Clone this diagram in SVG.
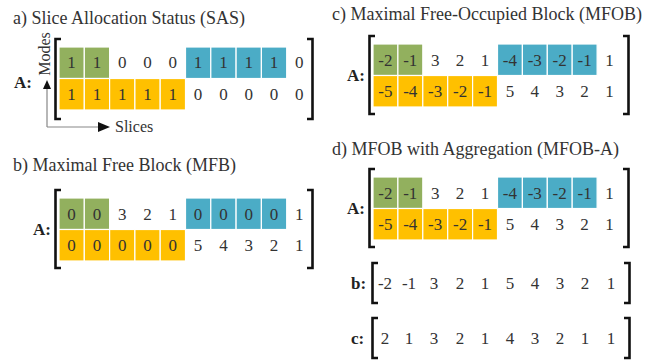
<svg xmlns="http://www.w3.org/2000/svg" width="670" height="363" viewBox="0 0 670 363">
  <!-- a) Slice Allocation Status: titles, labels and axis words -->
  <text x="13" y="24" font-family="Liberation Serif" font-size="18" fill="#333">a) Slice Allocation Status (SAS)</text>
  <text x="14" y="88" font-family="Liberation Serif" font-size="17" font-weight="bold" fill="#222">A:</text>
  <text x="0" y="0" transform="translate(50,54) rotate(-90)" text-anchor="middle" font-family="Liberation Serif" font-size="16" fill="#333">Modes</text>
  <text x="115" y="132" font-family="Liberation Serif" font-size="16" fill="#333">Slices</text>

  <!-- SAS cells -->
  <rect x="59" y="47" width="25.3" height="31.5" fill="#92B05E" stroke="#fff" stroke-width="1.2"/>
  <rect x="84.3" y="47" width="25.3" height="31.5" fill="#92B05E" stroke="#fff" stroke-width="1.2"/>
  <rect x="185.5" y="47" width="25.3" height="31.5" fill="#4BACC6" stroke="#fff" stroke-width="1.2"/>
  <rect x="210.8" y="47" width="25.3" height="31.5" fill="#4BACC6" stroke="#fff" stroke-width="1.2"/>
  <rect x="236.1" y="47" width="25.3" height="31.5" fill="#4BACC6" stroke="#fff" stroke-width="1.2"/>
  <rect x="261.4" y="47" width="25.3" height="31.5" fill="#4BACC6" stroke="#fff" stroke-width="1.2"/>
  <rect x="59" y="78.5" width="25.3" height="31.5" fill="#FFC000" stroke="#fff" stroke-width="1.2"/>
  <rect x="84.3" y="78.5" width="25.3" height="31.5" fill="#FFC000" stroke="#fff" stroke-width="1.2"/>
  <rect x="109.6" y="78.5" width="25.3" height="31.5" fill="#FFC000" stroke="#fff" stroke-width="1.2"/>
  <rect x="134.9" y="78.5" width="25.3" height="31.5" fill="#FFC000" stroke="#fff" stroke-width="1.2"/>
  <rect x="160.2" y="78.5" width="25.3" height="31.5" fill="#FFC000" stroke="#fff" stroke-width="1.2"/>

  <!-- SAS values -->
  <text x="71.6" y="68" text-anchor="middle" font-family="Liberation Serif" font-size="17" fill="#333">1</text>
  <text x="96.9" y="68" text-anchor="middle" font-family="Liberation Serif" font-size="17" fill="#333">1</text>
  <text x="122.2" y="68" text-anchor="middle" font-family="Liberation Serif" font-size="17" fill="#333">0</text>
  <text x="147.5" y="68" text-anchor="middle" font-family="Liberation Serif" font-size="17" fill="#333">0</text>
  <text x="172.8" y="68" text-anchor="middle" font-family="Liberation Serif" font-size="17" fill="#333">0</text>
  <text x="198.1" y="68" text-anchor="middle" font-family="Liberation Serif" font-size="17" fill="#333">1</text>
  <text x="223.4" y="68" text-anchor="middle" font-family="Liberation Serif" font-size="17" fill="#333">1</text>
  <text x="248.7" y="68" text-anchor="middle" font-family="Liberation Serif" font-size="17" fill="#333">1</text>
  <text x="274" y="68" text-anchor="middle" font-family="Liberation Serif" font-size="17" fill="#333">1</text>
  <text x="299.3" y="68" text-anchor="middle" font-family="Liberation Serif" font-size="17" fill="#333">0</text>
  <text x="71.6" y="100" text-anchor="middle" font-family="Liberation Serif" font-size="17" fill="#333">1</text>
  <text x="96.9" y="100" text-anchor="middle" font-family="Liberation Serif" font-size="17" fill="#333">1</text>
  <text x="122.2" y="100" text-anchor="middle" font-family="Liberation Serif" font-size="17" fill="#333">1</text>
  <text x="147.5" y="100" text-anchor="middle" font-family="Liberation Serif" font-size="17" fill="#333">1</text>
  <text x="172.8" y="100" text-anchor="middle" font-family="Liberation Serif" font-size="17" fill="#333">1</text>
  <text x="198.1" y="100" text-anchor="middle" font-family="Liberation Serif" font-size="17" fill="#333">0</text>
  <text x="223.4" y="100" text-anchor="middle" font-family="Liberation Serif" font-size="17" fill="#333">0</text>
  <text x="248.7" y="100" text-anchor="middle" font-family="Liberation Serif" font-size="17" fill="#333">0</text>
  <text x="274" y="100" text-anchor="middle" font-family="Liberation Serif" font-size="17" fill="#333">0</text>
  <text x="299.3" y="100" text-anchor="middle" font-family="Liberation Serif" font-size="17" fill="#333">0</text>
  <path d="M61,39 H55.5 V119 H61 M307,39 H312.5 V119 H307" fill="none" stroke="#111" stroke-width="2.6"/>

  <!-- axis arrows -->
  <path d="M47,127 V88 M47,127 H99" fill="none" stroke="#888" stroke-width="1.2"/>
  <polygon points="47,80 43,89 51,89" fill="#111"/>
  <polygon points="110,127 98,122 98,132" fill="#111"/>

  <!-- b) Maximal Free Block -->
  <text x="13" y="171" font-family="Liberation Serif" font-size="18" fill="#333">b) Maximal Free Block (MFB)</text>
  <text x="33" y="235" font-family="Liberation Serif" font-size="17" font-weight="bold" fill="#222">A:</text>
  <rect x="59" y="198" width="25.3" height="31.5" fill="#92B05E" stroke="#fff" stroke-width="1.2"/>
  <rect x="84.3" y="198" width="25.3" height="31.5" fill="#92B05E" stroke="#fff" stroke-width="1.2"/>
  <rect x="185.5" y="198" width="25.3" height="31.5" fill="#4BACC6" stroke="#fff" stroke-width="1.2"/>
  <rect x="210.8" y="198" width="25.3" height="31.5" fill="#4BACC6" stroke="#fff" stroke-width="1.2"/>
  <rect x="236.1" y="198" width="25.3" height="31.5" fill="#4BACC6" stroke="#fff" stroke-width="1.2"/>
  <rect x="261.4" y="198" width="25.3" height="31.5" fill="#4BACC6" stroke="#fff" stroke-width="1.2"/>
  <rect x="59" y="229.5" width="25.3" height="31.5" fill="#FFC000" stroke="#fff" stroke-width="1.2"/>
  <rect x="84.3" y="229.5" width="25.3" height="31.5" fill="#FFC000" stroke="#fff" stroke-width="1.2"/>
  <rect x="109.6" y="229.5" width="25.3" height="31.5" fill="#FFC000" stroke="#fff" stroke-width="1.2"/>
  <rect x="134.9" y="229.5" width="25.3" height="31.5" fill="#FFC000" stroke="#fff" stroke-width="1.2"/>
  <rect x="160.2" y="229.5" width="25.3" height="31.5" fill="#FFC000" stroke="#fff" stroke-width="1.2"/>
  <text x="71.6" y="220" text-anchor="middle" font-family="Liberation Serif" font-size="17" fill="#333">0</text>
  <text x="96.9" y="220" text-anchor="middle" font-family="Liberation Serif" font-size="17" fill="#333">0</text>
  <text x="122.2" y="220" text-anchor="middle" font-family="Liberation Serif" font-size="17" fill="#333">3</text>
  <text x="147.5" y="220" text-anchor="middle" font-family="Liberation Serif" font-size="17" fill="#333">2</text>
  <text x="172.8" y="220" text-anchor="middle" font-family="Liberation Serif" font-size="17" fill="#333">1</text>
  <text x="198.1" y="220" text-anchor="middle" font-family="Liberation Serif" font-size="17" fill="#333">0</text>
  <text x="223.4" y="220" text-anchor="middle" font-family="Liberation Serif" font-size="17" fill="#333">0</text>
  <text x="248.7" y="220" text-anchor="middle" font-family="Liberation Serif" font-size="17" fill="#333">0</text>
  <text x="274" y="220" text-anchor="middle" font-family="Liberation Serif" font-size="17" fill="#333">0</text>
  <text x="299.3" y="220" text-anchor="middle" font-family="Liberation Serif" font-size="17" fill="#333">1</text>
  <text x="71.6" y="251" text-anchor="middle" font-family="Liberation Serif" font-size="17" fill="#333">0</text>
  <text x="96.9" y="251" text-anchor="middle" font-family="Liberation Serif" font-size="17" fill="#333">0</text>
  <text x="122.2" y="251" text-anchor="middle" font-family="Liberation Serif" font-size="17" fill="#333">0</text>
  <text x="147.5" y="251" text-anchor="middle" font-family="Liberation Serif" font-size="17" fill="#333">0</text>
  <text x="172.8" y="251" text-anchor="middle" font-family="Liberation Serif" font-size="17" fill="#333">0</text>
  <text x="198.1" y="251" text-anchor="middle" font-family="Liberation Serif" font-size="17" fill="#333">5</text>
  <text x="223.4" y="251" text-anchor="middle" font-family="Liberation Serif" font-size="17" fill="#333">4</text>
  <text x="248.7" y="251" text-anchor="middle" font-family="Liberation Serif" font-size="17" fill="#333">3</text>
  <text x="274" y="251" text-anchor="middle" font-family="Liberation Serif" font-size="17" fill="#333">2</text>
  <text x="299.3" y="251" text-anchor="middle" font-family="Liberation Serif" font-size="17" fill="#333">1</text>
  <path d="M61,190 H55.5 V268 H61 M307,190 H312.5 V268 H307" fill="none" stroke="#111" stroke-width="2.6"/>

  <!-- c) Maximal Free-Occupied Block -->
  <text x="332" y="20" font-family="Liberation Serif" font-size="18" fill="#333">c) Maximal Free-Occupied Block (MFOB)</text>
  <text x="347" y="81" font-family="Liberation Serif" font-size="17" font-weight="bold" fill="#222">A:</text>
  <rect x="373" y="44" width="24.9" height="31.5" fill="#92B05E" stroke="#fff" stroke-width="1.2"/>
  <rect x="397.9" y="44" width="24.9" height="31.5" fill="#92B05E" stroke="#fff" stroke-width="1.2"/>
  <rect x="497.5" y="44" width="24.9" height="31.5" fill="#4BACC6" stroke="#fff" stroke-width="1.2"/>
  <rect x="522.4" y="44" width="24.9" height="31.5" fill="#4BACC6" stroke="#fff" stroke-width="1.2"/>
  <rect x="547.3" y="44" width="24.9" height="31.5" fill="#4BACC6" stroke="#fff" stroke-width="1.2"/>
  <rect x="572.2" y="44" width="24.9" height="31.5" fill="#4BACC6" stroke="#fff" stroke-width="1.2"/>
  <rect x="373" y="75.5" width="24.9" height="31.5" fill="#FFC000" stroke="#fff" stroke-width="1.2"/>
  <rect x="397.9" y="75.5" width="24.9" height="31.5" fill="#FFC000" stroke="#fff" stroke-width="1.2"/>
  <rect x="422.8" y="75.5" width="24.9" height="31.5" fill="#FFC000" stroke="#fff" stroke-width="1.2"/>
  <rect x="447.7" y="75.5" width="24.9" height="31.5" fill="#FFC000" stroke="#fff" stroke-width="1.2"/>
  <rect x="472.6" y="75.5" width="24.9" height="31.5" fill="#FFC000" stroke="#fff" stroke-width="1.2"/>
  <text x="385.4" y="66" text-anchor="middle" font-family="Liberation Serif" font-size="17" fill="#333">-2</text>
  <text x="410.3" y="66" text-anchor="middle" font-family="Liberation Serif" font-size="17" fill="#333">-1</text>
  <text x="435.2" y="66" text-anchor="middle" font-family="Liberation Serif" font-size="17" fill="#333">3</text>
  <text x="460.1" y="66" text-anchor="middle" font-family="Liberation Serif" font-size="17" fill="#333">2</text>
  <text x="485" y="66" text-anchor="middle" font-family="Liberation Serif" font-size="17" fill="#333">1</text>
  <text x="509.9" y="66" text-anchor="middle" font-family="Liberation Serif" font-size="17" fill="#333">-4</text>
  <text x="534.8" y="66" text-anchor="middle" font-family="Liberation Serif" font-size="17" fill="#333">-3</text>
  <text x="559.7" y="66" text-anchor="middle" font-family="Liberation Serif" font-size="17" fill="#333">-2</text>
  <text x="584.6" y="66" text-anchor="middle" font-family="Liberation Serif" font-size="17" fill="#333">-1</text>
  <text x="609.5" y="66" text-anchor="middle" font-family="Liberation Serif" font-size="17" fill="#333">1</text>
  <text x="385.4" y="97" text-anchor="middle" font-family="Liberation Serif" font-size="17" fill="#333">-5</text>
  <text x="410.3" y="97" text-anchor="middle" font-family="Liberation Serif" font-size="17" fill="#333">-4</text>
  <text x="435.2" y="97" text-anchor="middle" font-family="Liberation Serif" font-size="17" fill="#333">-3</text>
  <text x="460.1" y="97" text-anchor="middle" font-family="Liberation Serif" font-size="17" fill="#333">-2</text>
  <text x="485" y="97" text-anchor="middle" font-family="Liberation Serif" font-size="17" fill="#333">-1</text>
  <text x="509.9" y="97" text-anchor="middle" font-family="Liberation Serif" font-size="17" fill="#333">5</text>
  <text x="534.8" y="97" text-anchor="middle" font-family="Liberation Serif" font-size="17" fill="#333">4</text>
  <text x="559.7" y="97" text-anchor="middle" font-family="Liberation Serif" font-size="17" fill="#333">3</text>
  <text x="584.6" y="97" text-anchor="middle" font-family="Liberation Serif" font-size="17" fill="#333">2</text>
  <text x="609.5" y="97" text-anchor="middle" font-family="Liberation Serif" font-size="17" fill="#333">1</text>
  <path d="M375,36 H369.5 V114 H375 M623,36 H628.5 V114 H623" fill="none" stroke="#111" stroke-width="2.6"/>

  <!-- d) MFOB with Aggregation -->
  <text x="332" y="155" font-family="Liberation Serif" font-size="18" fill="#333">d) MFOB with Aggregation (MFOB-A)</text>
  <text x="347" y="214" font-family="Liberation Serif" font-size="17" font-weight="bold" fill="#222">A:</text>
  <rect x="373" y="177" width="24.9" height="31.5" fill="#92B05E" stroke="#fff" stroke-width="1.2"/>
  <rect x="397.9" y="177" width="24.9" height="31.5" fill="#92B05E" stroke="#fff" stroke-width="1.2"/>
  <rect x="497.5" y="177" width="24.9" height="31.5" fill="#4BACC6" stroke="#fff" stroke-width="1.2"/>
  <rect x="522.4" y="177" width="24.9" height="31.5" fill="#4BACC6" stroke="#fff" stroke-width="1.2"/>
  <rect x="547.3" y="177" width="24.9" height="31.5" fill="#4BACC6" stroke="#fff" stroke-width="1.2"/>
  <rect x="572.2" y="177" width="24.9" height="31.5" fill="#4BACC6" stroke="#fff" stroke-width="1.2"/>
  <rect x="373" y="208.5" width="24.9" height="31.5" fill="#FFC000" stroke="#fff" stroke-width="1.2"/>
  <rect x="397.9" y="208.5" width="24.9" height="31.5" fill="#FFC000" stroke="#fff" stroke-width="1.2"/>
  <rect x="422.8" y="208.5" width="24.9" height="31.5" fill="#FFC000" stroke="#fff" stroke-width="1.2"/>
  <rect x="447.7" y="208.5" width="24.9" height="31.5" fill="#FFC000" stroke="#fff" stroke-width="1.2"/>
  <rect x="472.6" y="208.5" width="24.9" height="31.5" fill="#FFC000" stroke="#fff" stroke-width="1.2"/>
  <text x="385.4" y="199" text-anchor="middle" font-family="Liberation Serif" font-size="17" fill="#333">-2</text>
  <text x="410.3" y="199" text-anchor="middle" font-family="Liberation Serif" font-size="17" fill="#333">-1</text>
  <text x="435.2" y="199" text-anchor="middle" font-family="Liberation Serif" font-size="17" fill="#333">3</text>
  <text x="460.1" y="199" text-anchor="middle" font-family="Liberation Serif" font-size="17" fill="#333">2</text>
  <text x="485" y="199" text-anchor="middle" font-family="Liberation Serif" font-size="17" fill="#333">1</text>
  <text x="509.9" y="199" text-anchor="middle" font-family="Liberation Serif" font-size="17" fill="#333">-4</text>
  <text x="534.8" y="199" text-anchor="middle" font-family="Liberation Serif" font-size="17" fill="#333">-3</text>
  <text x="559.7" y="199" text-anchor="middle" font-family="Liberation Serif" font-size="17" fill="#333">-2</text>
  <text x="584.6" y="199" text-anchor="middle" font-family="Liberation Serif" font-size="17" fill="#333">-1</text>
  <text x="609.5" y="199" text-anchor="middle" font-family="Liberation Serif" font-size="17" fill="#333">1</text>
  <text x="385.4" y="230" text-anchor="middle" font-family="Liberation Serif" font-size="17" fill="#333">-5</text>
  <text x="410.3" y="230" text-anchor="middle" font-family="Liberation Serif" font-size="17" fill="#333">-4</text>
  <text x="435.2" y="230" text-anchor="middle" font-family="Liberation Serif" font-size="17" fill="#333">-3</text>
  <text x="460.1" y="230" text-anchor="middle" font-family="Liberation Serif" font-size="17" fill="#333">-2</text>
  <text x="485" y="230" text-anchor="middle" font-family="Liberation Serif" font-size="17" fill="#333">-1</text>
  <text x="509.9" y="230" text-anchor="middle" font-family="Liberation Serif" font-size="17" fill="#333">5</text>
  <text x="534.8" y="230" text-anchor="middle" font-family="Liberation Serif" font-size="17" fill="#333">4</text>
  <text x="559.7" y="230" text-anchor="middle" font-family="Liberation Serif" font-size="17" fill="#333">3</text>
  <text x="584.6" y="230" text-anchor="middle" font-family="Liberation Serif" font-size="17" fill="#333">2</text>
  <text x="609.5" y="230" text-anchor="middle" font-family="Liberation Serif" font-size="17" fill="#333">1</text>
  <path d="M375,169 H369.5 V247 H375 M623,169 H628.5 V247 H623" fill="none" stroke="#111" stroke-width="2.6"/>

  <!-- aggregated vector b -->
  <text x="351" y="289" font-family="Liberation Serif" font-size="17" font-weight="bold" fill="#222">b:</text>
  <text x="385" y="289" text-anchor="middle" font-family="Liberation Serif" font-size="17" fill="#333">-2</text>
  <text x="409" y="289" text-anchor="middle" font-family="Liberation Serif" font-size="17" fill="#333">-1</text>
  <text x="434" y="289" text-anchor="middle" font-family="Liberation Serif" font-size="17" fill="#333">3</text>
  <text x="460" y="289" text-anchor="middle" font-family="Liberation Serif" font-size="17" fill="#333">2</text>
  <text x="485" y="289" text-anchor="middle" font-family="Liberation Serif" font-size="17" fill="#333">1</text>
  <text x="510" y="289" text-anchor="middle" font-family="Liberation Serif" font-size="17" fill="#333">5</text>
  <text x="535" y="289" text-anchor="middle" font-family="Liberation Serif" font-size="17" fill="#333">4</text>
  <text x="560" y="289" text-anchor="middle" font-family="Liberation Serif" font-size="17" fill="#333">3</text>
  <text x="585" y="289" text-anchor="middle" font-family="Liberation Serif" font-size="17" fill="#333">2</text>
  <text x="611" y="289" text-anchor="middle" font-family="Liberation Serif" font-size="17" fill="#333">1</text>
  <path d="M378,263 H372.5 V303 H378 M624,263 H629.5 V303 H624" fill="none" stroke="#111" stroke-width="2.6"/>

  <!-- aggregated vector c -->
  <text x="351" y="344" font-family="Liberation Serif" font-size="17" font-weight="bold" fill="#222">c:</text>
  <text x="385" y="344" text-anchor="middle" font-family="Liberation Serif" font-size="17" fill="#333">2</text>
  <text x="409" y="344" text-anchor="middle" font-family="Liberation Serif" font-size="17" fill="#333">1</text>
  <text x="434" y="344" text-anchor="middle" font-family="Liberation Serif" font-size="17" fill="#333">3</text>
  <text x="460" y="344" text-anchor="middle" font-family="Liberation Serif" font-size="17" fill="#333">2</text>
  <text x="485" y="344" text-anchor="middle" font-family="Liberation Serif" font-size="17" fill="#333">1</text>
  <text x="510" y="344" text-anchor="middle" font-family="Liberation Serif" font-size="17" fill="#333">4</text>
  <text x="535" y="344" text-anchor="middle" font-family="Liberation Serif" font-size="17" fill="#333">3</text>
  <text x="560" y="344" text-anchor="middle" font-family="Liberation Serif" font-size="17" fill="#333">2</text>
  <text x="585" y="344" text-anchor="middle" font-family="Liberation Serif" font-size="17" fill="#333">1</text>
  <text x="611" y="344" text-anchor="middle" font-family="Liberation Serif" font-size="17" fill="#333">1</text>
  <path d="M378,318 H372.5 V358 H378 M624,318 H629.5 V358 H624" fill="none" stroke="#111" stroke-width="2.6"/>
</svg>
